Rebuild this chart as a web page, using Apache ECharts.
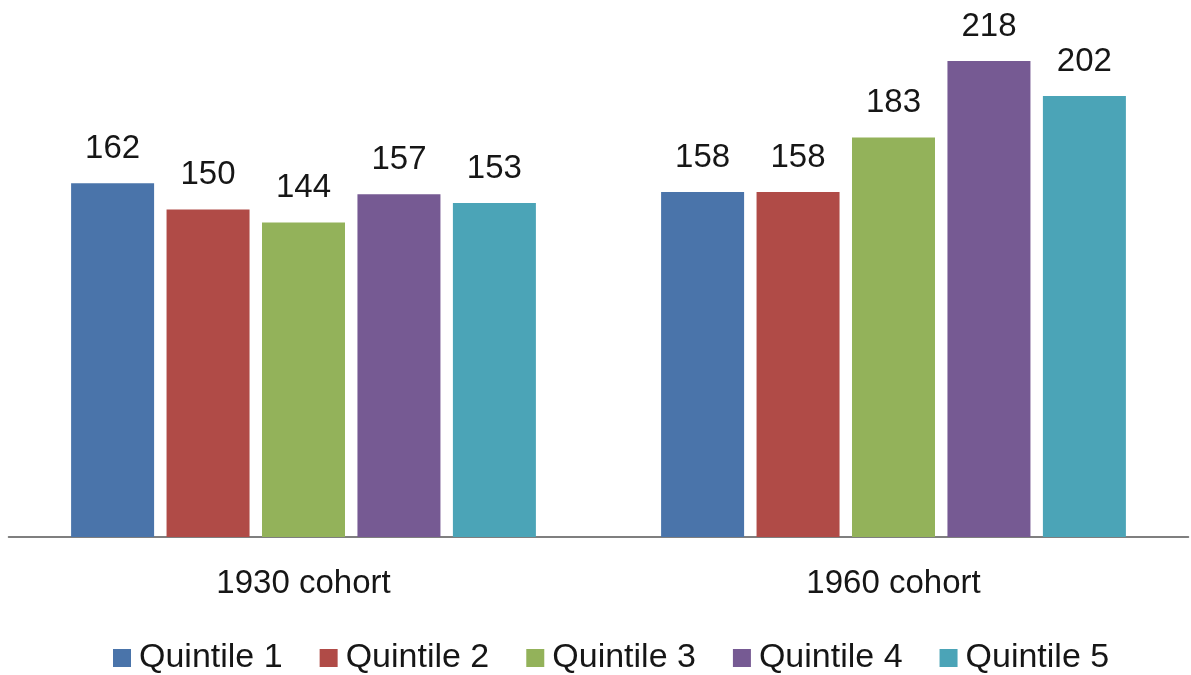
<!DOCTYPE html>
<html>
<head>
<meta charset="utf-8">
<style>
  html, body { margin: 0; padding: 0; background: #ffffff; }
  #chart { width: 1191px; height: 675px; }
</style>
<script src="https://cdn.jsdelivr.net/npm/echarts@6/dist/echarts.min.js"></script>
</head>
<body>
<div id="chart"></div>
<script>
// Cohorts on the category axis, one series per income quintile
const cohorts = ['1930 cohort', '1960 cohort'];
const quintileNames = ['Quintile 1', 'Quintile 2', 'Quintile 3', 'Quintile 4', 'Quintile 5'];
const quintile1 = [162, 158];
const quintile2 = [150, 158];
const quintile3 = [144, 183];
const quintile4 = [157, 218];
const quintile5 = [153, 202];
const quintileColors = ['#4a74aa', '#b04b47', '#93b25a', '#765a93', '#4ba4b7'];

const valuesByQuintile = [quintile1, quintile2, quintile3, quintile4, quintile5];
const fontFamily = '"Liberation Sans", Arial, Helvetica, sans-serif';
const textColor = '#161616';

const chart = echarts.init(document.getElementById('chart'));

chart.setOption({
  animation: false,
  textStyle: { fontFamily: fontFamily },
  grid: { left: 8.5, right: 2.5, top: 13, bottom: 138, containLabel: false },
  legend: {
    top: 636,
    left: 108,
    itemWidth: 18,
    itemHeight: 18,
    itemGap: 37,
    icon: 'rect',
    textStyle: { fontSize: 34, color: textColor, fontFamily: fontFamily, padding: [0, 0, 0, 3] },
    data: quintileNames
  },
  xAxis: {
    type: 'category',
    data: cohorts,
    axisLine: { show: true, lineStyle: { color: '#555555', width: 1.5 } },
    axisTick: { show: false },
    axisLabel: { fontSize: 33, color: textColor, margin: 30, fontFamily: fontFamily }
  },
  yAxis: {
    type: 'value',
    min: 0,
    max: 240,
    show: false,
    splitLine: { show: false }
  },
  series: quintileNames.map((name, i) => ({
    name: name,
    type: 'bar',
    data: valuesByQuintile[i],
    barWidth: 83,
    barGap: '15%',
    itemStyle: { color: quintileColors[i] },
    label: {
      show: true,
      position: 'top',
      distance: 18,
      fontSize: 33,
      color: textColor,
      fontFamily: fontFamily
    }
  }))
});
</script>
</body>
</html>
